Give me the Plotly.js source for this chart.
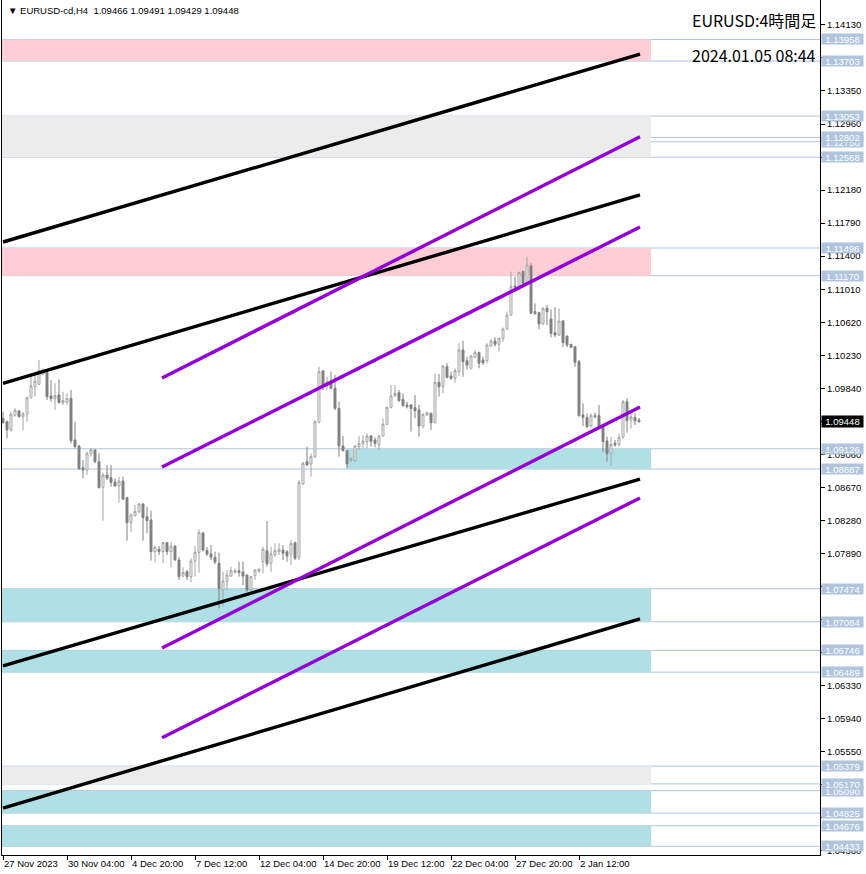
<!DOCTYPE html>
<html>
<head>
<meta charset="utf-8">
<script src="https://cdn.plot.ly/plotly-3.0.1.min.js"></script>
<style>html,body{margin:0;padding:0;background:#fff;}#chart{width:866px;height:874px;}</style>
</head>
<body>
<div id="chart"></div>
<script>
// ---- Candle data (EURUSD H4), bar index 0 = 27 Nov 2023 12:00 ----
const opens = [1.09485,1.09446,1.09348,1.09521,1.09572,1.09505,1.09533,1.09729,1.09859,1.09887,
1.10009,1.10024,1.09749,1.09718,1.09761,1.09670,1.09678,1.09721,1.09230,1.09159,
1.08903,1.08875,1.09064,1.09112,1.08974,1.08671,1.08816,1.08785,1.08734,1.08687,
1.08746,1.08549,1.08254,1.08336,1.08384,1.08474,1.08325,1.08285,1.07911,1.07939,
1.07911,1.08018,1.07911,1.07978,1.07813,1.07624,1.07675,1.07616,1.07801,1.07903,
1.08132,1.07925,1.07885,1.07845,1.07774,1.07459,1.07557,1.07624,1.07664,1.07687,
1.07671,1.07636,1.07459,1.07628,1.07680,1.07793,1.07923,1.07774,1.07872,1.07911,
1.07931,1.07911,1.07880,1.08018,1.07841,1.08710,1.08974,1.08946,1.09033,1.09438,
1.10044,1.09867,1.09899,1.09840,1.09603,1.09159,1.09104,1.08982,1.08986,1.09151,
1.09190,1.09210,1.09277,1.09230,1.09171,1.09277,1.09415,1.09615,1.09749,1.09788,
1.09710,1.09643,1.09643,1.09611,1.09584,1.09395,1.09525,1.09544,1.09434,1.09910,
1.09859,1.10095,1.09985,1.09958,1.10036,1.10292,1.10166,1.10076,1.10205,1.10264,
1.10174,1.10166,1.10343,1.10398,1.10359,1.10430,1.10540,1.10705,1.11048,1.11040,
1.11217,1.11079,1.11284,1.10745,1.10733,1.10599,1.10784,1.10658,1.10497,1.10469,
1.10634,1.10457,1.10359,1.10331,1.10154,1.09525,1.09497,1.09395,1.09517,1.09517,
1.09387,1.09218,1.09072,1.09190,1.09178,1.09261,1.09682,1.09466,1.09495,1.09466];
const highs = [1.09564,1.09458,1.09564,1.09603,1.09584,1.09564,1.09741,1.10017,1.10017,1.10174,
1.10076,1.10032,1.09938,1.09899,1.09946,1.09800,1.09780,1.09820,1.09446,1.09171,
1.08993,1.09092,1.09131,1.09119,1.09072,1.08844,1.08934,1.08934,1.08777,1.08797,
1.08797,1.08561,1.08364,1.08462,1.08482,1.08482,1.08443,1.08395,1.07978,1.07978,
1.08029,1.08025,1.08029,1.07985,1.07852,1.07726,1.07695,1.07833,1.07978,1.08175,
1.08147,1.07965,1.07990,1.07911,1.07900,1.07675,1.07695,1.07734,1.07715,1.07793,
1.07793,1.07640,1.07620,1.07703,1.07715,1.07970,1.08273,1.07970,1.08010,1.08010,
1.07990,1.07931,1.08049,1.08029,1.08757,1.08974,1.09151,1.09072,1.09466,1.10095,
1.10056,1.09977,1.10036,1.09997,1.09682,1.09277,1.09112,1.09021,1.09171,1.09277,
1.09289,1.09308,1.09289,1.09261,1.09289,1.09485,1.09623,1.09879,1.09879,1.09820,
1.09780,1.09682,1.09654,1.09761,1.09643,1.09544,1.09564,1.09552,1.10017,1.10009,
1.10115,1.10135,1.10036,1.10076,1.10371,1.10402,1.10213,1.10233,1.10292,1.10272,
1.10213,1.10371,1.10418,1.10442,1.10442,1.10556,1.10745,1.11217,1.11158,1.11217,
1.11229,1.11394,1.11315,1.10843,1.10745,1.10796,1.10823,1.10772,1.10796,1.10784,
1.10646,1.10460,1.10363,1.10335,1.10174,1.09662,1.09544,1.09544,1.09552,1.09643,
1.09390,1.09269,1.09269,1.09230,1.09308,1.09702,1.09721,1.09564,1.09544,1.09491];
const lows = [1.09426,1.09249,1.09328,1.09505,1.09493,1.09348,1.09446,1.09721,1.09741,1.09879,
1.09997,1.09702,1.09682,1.09584,1.09662,1.09643,1.09643,1.09190,1.09131,1.08875,
1.08777,1.08816,1.09033,1.08954,1.08659,1.08277,1.08757,1.08679,1.08679,1.08490,
1.08521,1.08041,1.08147,1.08325,1.08364,1.08041,1.08128,1.07805,1.07785,1.07872,
1.07774,1.07872,1.07726,1.07805,1.07577,1.07608,1.07577,1.07549,1.07616,1.07663,
1.07911,1.07860,1.07815,1.07765,1.07242,1.07262,1.07459,1.07616,1.07656,1.07616,
1.07518,1.07439,1.07439,1.07577,1.07660,1.07656,1.07734,1.07675,1.07852,1.07872,
1.07813,1.07793,1.07754,1.07813,1.07813,1.08698,1.08923,1.08797,1.09013,1.09426,
1.09820,1.09820,1.09828,1.09584,1.09033,1.09092,1.08895,1.08974,1.08974,1.09112,
1.09131,1.09131,1.09151,1.09143,1.09112,1.09269,1.09407,1.09603,1.09741,1.09682,
1.09623,1.09603,1.09328,1.09485,1.09269,1.09367,1.09513,1.09348,1.09426,1.09741,
1.09780,1.09958,1.09938,1.09906,1.09985,1.09977,1.10064,1.10064,1.10194,1.10076,
1.10115,1.10135,1.10324,1.10331,1.10272,1.10390,1.10528,1.10693,1.11020,1.11032,
1.11071,1.11059,1.10717,1.10705,1.10536,1.10587,1.10587,1.10442,1.10442,1.10457,
1.10331,1.10324,1.10312,1.10095,1.09505,1.09395,1.09367,1.09379,1.09485,1.09379,
1.09092,1.08974,1.08927,1.09151,1.09151,1.09249,1.09316,1.09367,1.09407,1.09429];
const closes = [1.09434,1.09348,1.09533,1.09580,1.09505,1.09537,1.09729,1.09867,1.09926,1.10048,
1.10056,1.09741,1.09718,1.09753,1.09670,1.09694,1.09721,1.09222,1.09151,1.08891,
1.08875,1.09072,1.09119,1.08974,1.08667,1.08816,1.08781,1.08730,1.08687,1.08746,
1.08533,1.08254,1.08344,1.08388,1.08474,1.08313,1.08277,1.07911,1.07963,1.07911,
1.08018,1.07911,1.07978,1.07813,1.07616,1.07667,1.07616,1.07801,1.07903,1.08140,
1.07931,1.07885,1.07845,1.07790,1.07479,1.07565,1.07636,1.07687,1.07687,1.07664,
1.07624,1.07459,1.07616,1.07695,1.07705,1.07939,1.07766,1.07884,1.07923,1.07939,
1.07892,1.07860,1.08010,1.07833,1.08730,1.08954,1.08934,1.09033,1.09446,1.10036,
1.09859,1.09918,1.09840,1.09603,1.09159,1.09104,1.08946,1.09009,1.09159,1.09190,
1.09218,1.09277,1.09214,1.09190,1.09277,1.09415,1.09615,1.09749,1.09781,1.09694,
1.09635,1.09623,1.09603,1.09576,1.09395,1.09533,1.09552,1.09434,1.09910,1.09859,
1.10103,1.09969,1.09958,1.10048,1.10292,1.10154,1.10115,1.10221,1.10264,1.10135,
1.10142,1.10351,1.10398,1.10359,1.10430,1.10540,1.10705,1.11040,1.11032,1.11205,
1.11079,1.11295,1.10725,1.10725,1.10599,1.10784,1.10745,1.10489,1.10469,1.10634,
1.10379,1.10351,1.10324,1.10146,1.09517,1.09497,1.09387,1.09517,1.09505,1.09387,
1.09210,1.09072,1.09178,1.09171,1.09261,1.09682,1.09458,1.09505,1.09458,1.09448];

// ---- Time axis labels (every 16 bars) ----
const timeTickIdx = [0,16,32,48,64,80,96,112,128,144];
const timeTickText = ["27 Nov 2023","30 Nov 04:00","4 Dec 20:00","7 Dec 12:00","12 Dec 04:00",
  "14 Dec 20:00","19 Dec 12:00","22 Dec 04:00","27 Dec 20:00","2 Jan 12:00"];

// ---- Price axis ticks (labels hidden where the level boxes cover them) ----
const priceTickVals = [1.04380,1.04770,1.05160,1.05550,1.05940,1.06330,1.06720,1.07110,1.07500,1.07890,
  1.08280,1.08670,1.09060,1.09450,1.09840,1.10230,1.10620,1.11010,1.11400,1.11790,1.12180,1.12570,
  1.12960,1.13350,1.13740,1.14130];
const priceTickText = ["1.04380","","","1.05550","1.05940","1.06330","","","","1.07890",
  "1.08280","1.08670","1.09060","","1.09840","1.10230","1.10620","1.11010","1.11400","1.11790","1.12180","",
  "1.12960","1.13350","","1.14130"];

// ---- Horizontal levels (right-hand labels) ----
const levels = [1.13958,1.13703,1.13053,1.12750,1.12802,1.12568,1.11496,1.11170,1.09126,1.08887,
  1.07474,1.07084,1.06746,1.06489,1.05379,1.05090,1.05170,1.04825,1.04676,1.04433];

// ---- Zones: [low, high, startBar] ----
const pinkZones = [[1.13703,1.13958,-1],[1.11170,1.11496,-1]];
const grayZones = [[1.12568,1.13053,-1],[1.05170,1.05379,-1]];
const cyanZones = [[1.08887,1.09126,86],[1.07084,1.07474,-1],[1.06489,1.06746,-1],[1.04825,1.05090,-1],[1.04433,1.04676,-1]];
const zoneEndBar = 162;

// ---- Trend lines: start bar, start price, end bar, end price ----
const blackLines = [
  [0,1.11567,159.25,1.13786],
  [0,1.09899,159.25,1.12122],
  [0,1.06562,159.25,1.08769],
  [0,1.04885,159.25,1.07117]
];
const purpleLines = [
  [39.75,1.09962,159.25,1.12810],
  [39.75,1.08911,159.25,1.11744],
  [39.75,1.06774,159.25,1.09619],
  [39.75,1.05715,159.25,1.08545]
];

const lastPrice = 1.09448;
const headerText = "▼ EURUSD-cd,H4  1.09466 1.09491 1.09429 1.09448";
const titleText = "EURUSD:4時間足";
const timeText = "2024.01.05 08:44";

const idx = opens.map((_, i) => i);

const traces = [{
  type: 'candlestick',
  x: idx, open: opens, high: highs, low: lows, close: closes,
  increasing: {line: {color: '#a3a3a3', width: 1}, fillcolor: '#ffffff'},
  decreasing: {line: {color: '#808080', width: 1}, fillcolor: '#808080'},
  whiskerwidth: 0,
  hoverinfo: 'skip',
  showlegend: false
}];
blackLines.forEach(l => traces.push({type:'scatter', mode:'lines', x:[l[0],l[2]], y:[l[1],l[3]],
  line:{color:'#000000', width:3.4}, hoverinfo:'skip', showlegend:false}));
purpleLines.forEach(l => traces.push({type:'scatter', mode:'lines', x:[l[0],l[2]], y:[l[1],l[3]],
  line:{color:'#9400d3', width:3.4}, hoverinfo:'skip', showlegend:false}));

const shapes = [];
function addZones(zs, col){
  zs.forEach(z => shapes.push({type:'rect', xref:'x', yref:'y', x0:z[2], x1:zoneEndBar, y0:z[0], y1:z[1],
    fillcolor: col, line:{width:0}, layer:'below'}));
}
addZones(pinkZones, '#ffcdd6');
addZones(grayZones, '#ececec');
addZones(cyanZones, '#b0dfe5');
levels.forEach(v => shapes.push({type:'line', xref:'paper', yref:'y', x0:0, x1:1, y0:v, y1:v,
  line:{color:'#b0c4de', width:1}, layer:'below'}));

const labelFont = {family:'Liberation Sans, Arial, sans-serif', size:9.5, color:'#ffffff'};
const annotations = [];
levels.forEach(v => annotations.push({xref:'paper', yref:'y', x:1, y:v, xanchor:'left', yanchor:'middle',
  xshift:1, text: v.toFixed(5), showarrow:false, bgcolor:'#b0c4de', borderpad:0,
  width:41, height:10, align:'center', font: labelFont}));
annotations.push({xref:'paper', yref:'y', x:1, y:lastPrice, xanchor:'left', yanchor:'middle',
  xshift:1, text: lastPrice.toFixed(5), showarrow:false, bgcolor:'#000000', borderpad:0,
  width:41, height:11, align:'center', font: labelFont});
annotations.push({xref:'paper', yref:'paper', x:0.0049, y:1-10/855, xanchor:'left', yanchor:'middle',
  text: headerText, showarrow:false, font:{family:'Liberation Sans, Arial, sans-serif', size:9.5, color:'#000'}});
annotations.push({xref:'paper', yref:'paper', x:1, y:1-20/855, xanchor:'right', yanchor:'middle', xshift:-2,
  text: titleText, showarrow:false, font:{family:'Noto Sans CJK JP, sans-serif', size:16, color:'#000'}});
annotations.push({xref:'paper', yref:'paper', x:1, y:1-55/855, xanchor:'right', yanchor:'middle', xshift:-2,
  text: timeText, showarrow:false, font:{family:'Noto Sans CJK JP, sans-serif', size:16, color:'#000'}});

const layout = {
  width: 866, height: 874,
  margin: {l:2, r:46, t:0, b:19},
  paper_bgcolor:'#ffffff', plot_bgcolor:'#ffffff',
  showlegend:false, hovermode:false,
  xaxis: {
    type:'linear', range:[-0.25, 204.25], rangeslider:{visible:false},
    showgrid:false, zeroline:false, showline:true, linecolor:'#000', linewidth:1,
    tickmode:'array', tickvals: timeTickIdx, ticktext: timeTickText, tickangle:0,
    ticks:'outside', ticklen:4, tickcolor:'#000', ticklabelposition:'outside right',
    ticklabelstandoff:0,
    tickfont:{family:'Liberation Sans, Arial, sans-serif', size:9.5, color:'#000'},
    fixedrange:true
  },
  yaxis: {
    side:'right', range:[1.043305, 1.144238],
    showgrid:false, zeroline:false, showline:true, mirror:true, linecolor:'#000', linewidth:1,
    tickmode:'array', tickvals: priceTickVals, ticktext: priceTickText,
    ticks:'outside', ticklen:4, tickcolor:'#000',
    tickfont:{family:'Liberation Sans, Arial, sans-serif', size:9.5, color:'#000'},
    fixedrange:true
  },
  shapes: shapes,
  annotations: annotations
};

Plotly.newPlot('chart', traces, layout, {staticPlot:true, displayModeBar:false});
</script>
</body>
</html>
